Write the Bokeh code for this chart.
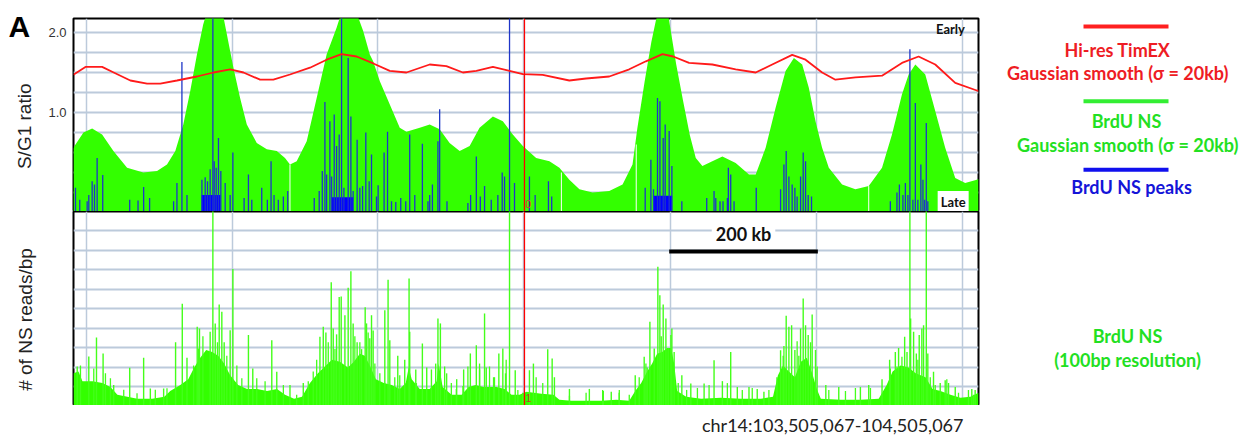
import math
from bokeh.plotting import figure
from bokeh.layouts import column, row
from bokeh.models import Range1d, Grid, FixedTicker, Label, Span, LinearAxis
from bokeh.core.properties import value
from bokeh.embed import file_html
from bokeh.resources import INLINE

# ---------------- data (positions in kb from chr14:103,505,067) ----------------
# BrdU NS Gaussian smooth (sigma = 20kb), S/G1 ratio scale
smooth_pos = [0, 1.1, 11.0, 20.6, 31.6, 44.1, 59.2, 77.2, 92.3, 103.3,
              112.5, 121.3, 129.0, 136.4, 143.3, 150.0, 156.6, 163.0, 169.5, 176.7,
              184.1, 191.5, 202.5, 213.6, 224.6, 233.7, 239.2, 246.6, 257.7, 268.7,
              279.7, 290.7, 297.5, 304.3, 311.0, 320.1, 327.4, 331.1, 338.5, 349.5,
              360.5, 367.9, 382.6, 393.6, 404.6, 415.6, 426.7, 437.7, 448.7, 463.4,
              474.4, 485.4, 496.5, 511.2, 525.9, 536.9, 547.9, 559.0, 573.6, 592.0,
              606.7, 617.7, 623.0, 631.0, 638.5, 643.5, 649.5, 656.0, 660.0, 666.0,
              673.5, 681.0, 687.6, 694.9, 705.9, 717.0, 731.7, 746.4, 753.8, 764.8,
              775.8, 786.8, 796.0, 805.2, 812.5, 819.9, 827.2, 834.6, 849.3, 864.0,
              878.7, 893.4, 904.4, 915.4, 922.8, 930.2, 941.2, 952.2, 963.2, 974.3,
              985.3, 998.1, 1000]
smooth_ratio = [0.55, 0.58, 0.75, 0.80, 0.725, 0.52, 0.31, 0.25, 0.27, 0.35,
                0.52, 0.85, 1.27, 1.725, 2.10, 2.35, 2.45, 2.35, 1.975, 1.56,
                1.18, 0.85, 0.62, 0.54, 0.52, 0.43, 0.35, 0.39, 0.64, 1.18,
                1.725, 2.06, 2.30, 2.45, 2.30, 2.02, 1.725, 1.64, 1.39, 1.10,
                0.81, 0.76, 0.81, 0.85, 0.79, 0.62, 0.52, 0.58, 0.81, 0.95,
                0.89, 0.725, 0.58, 0.43, 0.39, 0.31, 0.16, 0.04, 0.00, 0.02,
                0.10, 0.35, 0.80, 1.38, 1.88, 2.15, 2.40, 2.30, 2.02, 1.60,
                1.15, 0.72, 0.43, 0.33, 0.39, 0.45, 0.37, 0.225, 0.225, 0.56,
                1.06, 1.52, 1.68, 1.60, 1.31, 0.89, 0.56, 0.31, 0.10, 0.04,
                0.08, 0.31, 0.725, 1.225, 1.475, 1.60, 1.475, 1.02, 0.56, 0.18,
                0.12, 0.16, 0.17]

# gaps in the smoothed track (thin white lines)
gap_pos = [239.2, 539.1, 621.8, 878.7]
gap_top = [0.35, 0.25, 0.60, 0.08]

# Hi-res TimEX Gaussian smooth (sigma = 20kb)
timex_pos = [0, 1.1, 13.2, 31.6, 44.4, 62.8, 81.3, 95.9, 114.3, 136.4,
             154.7, 173.1, 187.8, 206.2, 220.8, 239.2, 261.3, 279.7, 296.2, 312.8,
             331.9, 349.5, 367.9, 393.6, 412.0, 430.3, 445.1, 463.4, 481.8, 496.5,
             518.5, 547.9, 566.4, 592.0, 614.1, 632.5, 650.8, 662.6, 680.2, 705.9,
             731.7, 753.8, 772.1, 794.1, 808.9, 827.2, 841.9, 864.0, 893.4, 915.4,
             933.8, 952.2, 974.3, 998.1, 1000]
timex_ratio = [1.47, 1.48, 1.57, 1.57, 1.50, 1.40, 1.36, 1.36, 1.40, 1.45,
               1.50, 1.54, 1.50, 1.41, 1.41, 1.475, 1.56, 1.66, 1.73, 1.70,
               1.61, 1.52, 1.50, 1.60, 1.58, 1.50, 1.52, 1.57, 1.52, 1.48,
               1.47, 1.40, 1.425, 1.45, 1.54, 1.64, 1.73, 1.70, 1.62, 1.60,
               1.54, 1.50, 1.60, 1.72, 1.66, 1.50, 1.41, 1.44, 1.46, 1.62,
               1.70, 1.60, 1.37, 1.275, 1.27]

# BrdU NS peaks
peak_pos = [2.2, 6.9, 15.1, 16.9, 20.6, 23.2, 26.1, 32.3, 62.1, 71.3,
            77.5, 84.1, 110.6, 114.3, 119.8, 125.4, 141.9, 145.5, 148.1, 151.0,
            154.0, 155.5, 157.7, 160.2, 162.8, 167.6, 173.1, 176.1, 188.5, 193.3,
            197.0, 208.0, 214.2, 218.3, 221.6, 226.3, 231.9, 236.7, 266.0, 271.5,
            274.9, 277.8, 279.7, 283.3, 285.2, 288.1, 290.7, 293.6, 296.2, 298.8,
            303.5, 306.5, 309.0, 313.4, 316.4, 319.4, 323.0, 326.7, 329.3, 334.8,
            336.6, 343.2, 347.0, 351.4, 356.1, 361.6, 367.1, 371.5, 377.1, 385.5,
            391.7, 393.6, 396.6, 402.7, 404.6, 412.7, 435.8, 438.8, 445.1, 449.5,
            454.2, 461.6, 468.9, 473.7, 476.3, 481.8, 487.3, 503.8, 510.1, 524.8,
            528.4, 631.7, 638.0, 640.9, 645.3, 648.0, 651.6, 653.8, 658.2, 661.2,
            672.2, 699.7, 707.8, 709.7, 714.4, 717.7, 722.5, 723.6, 726.2, 729.9,
            754.4, 781.3, 785.0, 787.5, 790.5, 794.1, 797.1, 799.6, 803.4, 806.3,
            808.9, 811.8, 815.5, 902.6, 909.9, 912.6, 916.5, 919.2, 922.0, 924.2,
            927.5, 930.2, 933.0, 936.3, 938.6, 940.4, 942.3, 944.0]
peak_ratio = [0.06, -0.09, -0.11, -0.03, 0.14, 0.10, 0.43, 0.22, -0.09, -0.10,
              0.07, -0.07, -0.11, 0.12, 1.63, -0.03, 0.16, 0.19, 0.14, 0.29,
              2.5, 0.39, 0.31, 0.68, 0.27, 0.12, -0.03, 0.50, -0.07, 0.225,
              -0.09, 0.06, -0.09, 0.39, -0.03, -0.09, -0.05, 0.02, -0.07, 0.02,
              0.27, 1.13, 0.225, 0.89, 0.20, 0.975, 0.58, 0.725, 2.5, 0.06,
              1.68, 0.95, 0.02, 0.66, 0.06, 0.08, 0.75, 0.14, 0.475, -0.05,
              0.09, 0.50, 0.76, -0.11, -0.12, -0.07, -0.11, 0.725, -0.03, 0.61,
              -0.11, -0.03, 0.10, 0.64, 1.04, -0.11, -0.13, -0.03, 0.45, -0.05,
              0.08, -0.09, -0.03, 0.25, 0.20, 2.5, 0.12, 0.20, -0.03, 0.14,
              -0.05, 0.06, 0.41, 0.04, 1.18, 1.14, 0.68, 0.85, 0.77, 0.33,
              -0.11, -0.07, 0.02, -0.07, -0.11, -0.11, -0.07, 0.31, 0.225, -0.11,
              0.06, 0.04, 0.35, 0.52, 0.20, 0.10, 0.06, -0.05, 0.20, 0.50,
              0.39, -0.03, -0.05, -0.11, 0.00, 0.10, -0.03, 0.12, -0.03, 1.79,
              -0.09, 1.12, -0.09, 0.35, 0.16, -0.09, 0.87, -0.11]

# dense peak clusters (packed peaks drawn as a block)
cluster_start = [141.5, 285.0, 641.0]
cluster_end = [162.5, 309.0, 661.5]
cluster_top = [-0.03, -0.06, -0.04]

# BrdU NS reads (100bp resolution): tall bins
ns_pos = [4.1, 16.9, 25.4, 32.7, 44.4, 62.1, 77.5, 84.9, 99.6, 112.8,
          120.2, 125.4, 136.7, 139.2, 151.0, 154.0, 156.6, 161.0, 163.9, 166.5,
          173.1, 176.1, 193.3, 198.1, 219.1, 224.6, 239.2, 253.9, 272.3, 276.0,
          278.9, 284.8, 287.0, 290.7, 293.6, 295.8, 299.9, 303.5, 306.5, 309.0,
          313.4, 318.3, 322.3, 323.8, 327.4, 329.3, 331.1, 344.0, 347.6, 349.5,
          358.3, 366.0, 370.8, 371.5, 378.2, 385.5, 390.3, 395.5, 400.2, 402.7,
          405.4, 412.3, 423.4, 431.1, 438.5, 445.1, 448.7, 454.2, 456.1, 464.2,
          470.0, 474.4, 477.4, 481.8, 488.1, 503.8, 508.2, 524.0, 528.9, 531.4,
          548.0, 570.0, 585.4, 594.2, 603.0, 620.7, 630.6, 633.9, 636.9, 641.7,
          645.7, 647.9, 649.4, 651.6, 654.6, 657.1, 660.1, 661.2, 663.7, 672.2,
          682.1, 696.8, 707.8, 717.0, 726.2, 733.5, 746.4, 755.5, 762.9, 777.3,
          781.3, 784.2, 787.5, 790.5, 793.5, 797.1, 801.5, 803.4, 806.3, 808.9,
          811.8, 816.2, 819.9, 831.3, 845.6, 869.5, 878.7, 893.4, 901.8, 908.1,
          911.7, 915.1, 918.4, 921.0, 924.2, 925.0, 928.3, 931.3, 934.5, 937.4,
          939.3, 942.3, 944.0, 950.3, 957.7, 963.2, 966.9, 974.3, 992.6, 996.3]
ns_reads = [2.05, 2.56, 3.54, 2.72, 1.1, 1.98, 2.5, 0.92, 0.92, 3.3,
            5.27, 2.5, 4.09, 4.0, 3.83, 12, 4.26, 5.23, 4.86, 3.3,
            3.91, 7.05, 3.66, 1.95, 3.4, 1.78, 1.1, 1.2, 3.57, 4.09,
            3.8, 6.37, 4.0, 3.7, 5.62, 5.64, 4.68, 6.09, 6.94, 4.26,
            3.3, 2.94, 5.09, 4.26, 3.5, 4.68, 3.9, 4.94, 6.5, 3.4,
            2.6, 2.4, 6.56, 3.83, 1.9, 3.23, 2.0, 1.9, 2.2, 4.51,
            4.26, 1.7, 1.4, 1.9, 2.72, 3.14, 1.9, 4.77, 2.0, 1.5,
            2.72, 2.97, 1.7, 12, 1.86, 1.86, 2.2, 2.94, 2.46, 1.5,
            0.9, 0.9, 0.8, 0.75, 0.7, 1.6, 2.55, 2.0, 4.34, 2.97,
            7.16, 5.71, 3.6, 5.23, 4.51, 3.0, 3.66, 4.0, 2.8, 1.6,
            1.18, 1.18, 2.37, 1.3, 2.8, 1.0, 1.0, 0.9, 0.75, 1.5,
            2.89, 2.6, 4.65, 4.09, 4.17, 2.9, 2.6, 4.0, 5.54, 4.17,
            3.66, 4.72, 2.9, 1.1, 1.0, 1.0, 1.1, 1.4, 2.4, 2.8,
            3.0, 2.0, 3.57, 2.8, 12, 4.51, 3.83, 2.72, 3.66, 4.0,
            4.17, 12, 2.72, 1.78, 1.2, 1.35, 1.2, 1.0, 0.9, 0.85]

# BrdU NS reads: smaller bins
ns_minor_pos = [7.7, 22.4, 35.3, 40.8, 55.5, 70.2, 90.4, 103.3, 132.7, 138.2,
                143.0, 159.1, 169.4, 180.5, 186.0, 202.5, 211.7, 231.9, 246.6, 259.4,
                264.9, 268.7, 281.5, 288.9, 310.9, 316.4, 325.6, 333.0, 338.5, 355.0,
                360.5, 378.9, 410.1, 417.5, 423.0, 430.3, 435.8, 448.7, 459.7, 465.2,
                478.1, 491.0, 496.5, 511.2, 518.5, 548.0, 566.4, 584.7, 603.1, 614.1,
                625.1, 632.5, 668.2, 677.5, 689.4, 702.3, 722.5, 739.0, 750.0, 768.4,
                785.0, 799.6, 814.4, 821.7, 834.6, 853.0, 864.0, 880.6, 902.6, 909.9,
                915.4, 933.0, 946.7, 952.2, 965.0, 977.9, 988.9, 994.5]
ns_minor_reads = [2.1, 1.95, 1.7, 1.45, 0.86, 0.68, 0.86, 0.94, 2.1, 2.97,
                  3.6, 3.3, 2.6, 2.1, 1.45, 1.45, 1.3, 1.1, 0.6, 1.3,
                  1.8, 2.4, 3.3, 2.95, 3.6, 3.3, 3.8, 2.2, 1.7, 1.5,
                  1.6, 1.2, 2.05, 1.2, 0.9, 1.05, 2.05, 2.2, 2.05, 1.5,
                  2.4, 0.85, 0.7, 1.5, 1.2, 0.55, 0.7, 0.85, 0.85, 0.6,
                  1.5, 2.2, 1.2, 0.85, 0.95, 1.1, 1.2, 0.85, 0.95, 0.85,
                  3.1, 3.35, 3.3, 2.05, 0.85, 0.8, 0.95, 0.95, 1.95, 2.05,
                  2.55, 2.4, 1.5, 1.1, 1.4, 0.7, 0.85, 0.6]

# BrdU NS reads: dense background level
ns_base_pos = [0, 5.5, 9.9, 20.9, 32, 40.8, 48.5, 59.5, 70.6, 87.1,
               100.3, 106.9, 118, 126.8, 133.4, 140, 146.6, 153.2, 159.9, 166.5,
               173.1, 181.9, 191.8, 202.9, 213.9, 224.9, 233.7, 243.7, 252.5, 261.3,
               270.1, 276.7, 285.5, 294.4, 303.2, 309.8, 316.4, 321.9, 327.4, 334.1,
               342.9, 351.7, 360.5, 367.1, 370.4, 373.7, 382.6, 393.6, 401.3, 403.5,
               407.9, 417.8, 428.9, 436.6, 444.3, 453.1, 467.5, 476.3, 484, 492.8,
               500.5, 517.1, 530.3, 536.9, 550.1, 566.7, 583.2, 599.8, 614.1, 620.7,
               627.3, 633.9, 639.4, 644.9, 650.4, 655.9, 660.4, 663.7, 667, 677,
               693.5, 715.5, 737.6, 759.6, 772.9, 778.4, 783.9, 790.5, 797.1, 803.7,
               810.3, 816.9, 821.3, 825.8, 847.8, 869.9, 889.7, 898.5, 905.1, 913.9,
               922.8, 930.5, 941.5, 949.2, 958, 969, 980, 991, 1000]
ns_base = [1.7, 1.8, 1.3, 1.3, 1.2, 1.0, 0.6, 0.5, 0.4, 0.4,
           0.5, 0.8, 1.1, 1.4, 2.0, 2.5, 2.9, 2.8, 2.6, 2.2,
           1.6, 1.1, 0.9, 0.9, 0.8, 0.9, 0.6, 0.4, 0.5, 1.2,
           1.7, 2.0, 2.4, 2.3, 2.0, 2.3, 2.7, 2.6, 2.1, 1.4,
           1.2, 1.1, 0.9, 1.2, 2.0, 1.4, 0.9, 0.9, 1.3, 2.2,
           1.0, 0.6, 0.6, 1.0, 1.1, 1.0, 1.0, 0.9, 0.6, 0.6,
           0.75, 0.65, 0.6, 0.35, 0.3, 0.3, 0.3, 0.35, 0.3, 0.8,
           1.2, 1.8, 2.2, 2.7, 2.8, 3.0, 3.0, 2.2, 0.8, 0.5,
           0.4, 0.45, 0.4, 0.4, 0.5, 1.6, 2.1, 1.8, 1.5, 2.3,
           2.5, 1.6, 0.9, 0.4, 0.35, 0.35, 0.4, 1.1, 1.8, 2.1,
           2.0, 1.7, 1.5, 0.9, 0.8, 0.6, 0.45, 0.5, 0.7]

# axis ticks / gridlines
grid_kb = [14.3, 175.3, 336.3, 497.3, 659.3, 821.4, 982.3]
ratio_grid = [0, 0.25, 0.5, 0.75, 1.0, 1.25, 1.5, 1.75, 2.0]
ratio_ticks = [1.0, 2.0]
ratio_tick_labels = {1.0: "1.0", 2.0: "2.0"}
reads_grid = [1, 2, 3, 4, 5, 6, 7, 8, 9]
marker_kb = 498.3
scale_start, scale_end = 658.2, 822.5
region_label = "chr14:103,505,067-104,505,067"

GREEN = "#33ff00"
GRID = "#bccadb"
LEFT = 45      # width of the column holding the panel titles
PANEL_W = 940  # width of the panel figures


def panel(height, top, bottom, yr):
    p = figure(width=PANEL_W, height=height, x_range=Range1d(0, 1000), y_range=yr,
               x_axis_type=None, y_axis_type=None, toolbar_location=None, tools="",
               output_backend="svg", title=None,
               min_border_left=26, min_border_right=7,
               min_border_top=top, min_border_bottom=bottom)
    p.outline_line_color = "black"
    p.outline_line_width = 2
    p.add_layout(Grid(dimension=0, ticker=FixedTicker(ticks=grid_kb),
                      grid_line_color=GRID, grid_line_width=1.5))
    return p


# ---------------- top panel ----------------
top = panel(211, 18, 0, Range1d(-0.2375, 2.175))
yax = LinearAxis(ticker=FixedTicker(ticks=ratio_ticks), major_label_overrides=ratio_tick_labels,
                 major_tick_out=0, major_tick_in=0, minor_tick_out=0, minor_tick_in=0,
                 axis_line_color=None, major_label_standoff=7,
                 major_label_text_font="Liberation Sans", major_label_text_font_size="13px",
                 major_label_text_color="#333333")
top.add_layout(yax, "left")
top.add_layout(Grid(dimension=1, ticker=FixedTicker(ticks=ratio_grid),
                    grid_line_color=GRID, grid_line_width=2))
top.varea(x=smooth_pos, y1=-0.5, y2=smooth_ratio, fill_color=GREEN)
top.segment(x0=gap_pos, y0=-0.5, x1=gap_pos, y1=gap_top, line_color="white", line_width=1)
top.quad(left=cluster_start, right=cluster_end, bottom=-0.5, top=cluster_top,
         fill_color="#0000ff", line_color=None)
top.segment(x0=peak_pos, y0=-0.5, x1=peak_pos, y1=peak_ratio, line_color="#1f36c8", line_width=1.3)
top.line(timex_pos, timex_ratio, line_color="#ff1a1a", line_width=1.8)
top.add_layout(Span(location=marker_kb, dimension="height", line_color="#ff0000", line_width=1.3))
top.add_layout(Label(x=969, y=2.05, text="Early", text_align="center", text_baseline="middle",
                     text_font="Lato", text_font_style="bold", text_font_size="13px", text_color="#111111"))
top.add_layout(Label(x=972, y=-0.12, text="Late", text_align="center", text_baseline="middle",
                     text_font="Lato", text_font_style="bold", text_font_size="13px", text_color="#111111",
                     background_fill_color="white", padding=3))
top.add_layout(Label(x=502.4, y=-0.14, text="0", text_align="center", text_baseline="middle",
                     text_font="Liberation Sans", text_font_size="10px", text_color="#e03030"))

# ---------------- bottom panel ----------------
bot = panel(194, 0, 0, Range1d(0.05, 10.0))
bot.add_layout(Grid(dimension=1, ticker=FixedTicker(ticks=reads_grid),
                    grid_line_color=GRID, grid_line_width=2))
bot.varea(x=ns_base_pos, y1=0, y2=ns_base, fill_color=GREEN)
bot.segment(x0=ns_minor_pos, y0=0, x1=ns_minor_pos, y1=ns_minor_reads, line_color="#44ff1a", line_width=1.3)
bot.segment(x0=ns_pos, y0=0, x1=ns_pos, y1=ns_reads, line_color="#44ff1a", line_width=1.4)
bot.add_layout(Span(location=marker_kb, dimension="height", line_color="#ff0000", line_width=1.3))
bot.segment(x0=[scale_start], y0=[7.95], x1=[scale_end], y1=[7.95], line_color="black", line_width=4)
bot.add_layout(Label(x=(scale_start + scale_end) / 2, y=8.87, text="200 kb", text_align="center",
                     text_baseline="middle", text_font="Lato", text_font_style="bold",
                     text_font_size="18px", text_color="#111111",
                     background_fill_color="white", padding=4))
bot.add_layout(Label(x=502.7, y=0.46, text="1", text_align="center", text_baseline="middle",
                     text_font="Liberation Sans", text_font_size="10px", text_color="#c04020"))

# ---------------- strip under the panels with the region label ----------------
strip = figure(width=PANEL_W, height=33, x_range=Range1d(0, 1000), y_range=Range1d(33, 0),
               x_axis_type=None, y_axis_type=None, toolbar_location=None, tools="",
               output_backend="svg", title=None,
               min_border_left=26, min_border_right=7, min_border_top=0, min_border_bottom=0)
strip.outline_line_color = None
strip.text(x=[983.4], y=[19], text=[region_label], text_align="right", text_baseline="middle",
           text_font=value("Lato"), text_font_size="18px", text_color="#222222")

# ---------------- left column: panel letter and y titles ----------------
left = figure(width=LEFT, height=438, x_range=Range1d(0, LEFT), y_range=Range1d(438, 0),
              x_axis_type=None, y_axis_type=None, toolbar_location=None, tools="",
              output_backend="svg", title=None, min_border=0)
left.outline_line_color = None
left.text(x=[8], y=[9], text=["A"], text_align="left", text_baseline="top",
          text_font=value("Liberation Sans"), text_font_style="bold", text_font_size="30px",
          text_color="black")
left.text(x=[24, 25], y=[125.8, 319], text=["S/G1 ratio", "# of NS reads/bp"], angle=math.pi / 2,
          text_align="center", text_baseline="middle",
          text_font=value("Liberation Sans"), text_font_size="19px", text_color="#222222")

# ---------------- legend ----------------
leg = figure(width=264, height=438, x_range=Range1d(985, 1249), y_range=Range1d(438, 0),
             x_axis_type=None, y_axis_type=None, toolbar_location=None, tools="",
             output_backend="svg", title=None, min_border=0)
leg.outline_line_color = None
leg_red, leg_green, leg_blue = "#ee1c24", "#22e022", "#1414d8"
leg.segment(x0=[1083], y0=[26], x1=[1168], y1=[26], line_color="#ff2020", line_width=4)
leg.segment(x0=[1083], y0=[100.7], x1=[1168], y1=[100.7], line_color="#33ee33", line_width=4)
leg.segment(x0=[1083], y0=[169.3], x1=[1168], y1=[169.3], line_color="#1010ee", line_width=4)
common = dict(text_align="center", text_baseline="middle", text_font=value("Lato"),
              text_font_style="bold", text_font_size="18px")
leg.text(x=[1117, 1117], y=[49, 72.5], text=["Hi-res TimEX", "Gaussian smooth (\u03c3 = 20kb)"],
         text_color=leg_red, **common)
leg.text(x=[1126, 1127], y=[120, 144.5], text=["BrdU NS", "Gaussian smooth (\u03c3 = 20kb)"],
         text_color=leg_green, **common)
leg.text(x=[1131], y=[186.5], text=["BrdU NS peaks"], text_color=leg_blue, **common)
leg.text(x=[1127, 1127], y=[335.5, 359.5], text=["BrdU NS", "(100bp resolution)"],
         text_color=leg_green, **common)

layout = row(left, column(top, bot, strip), leg)
open("out.html", "w").write(file_html(layout, INLINE))
